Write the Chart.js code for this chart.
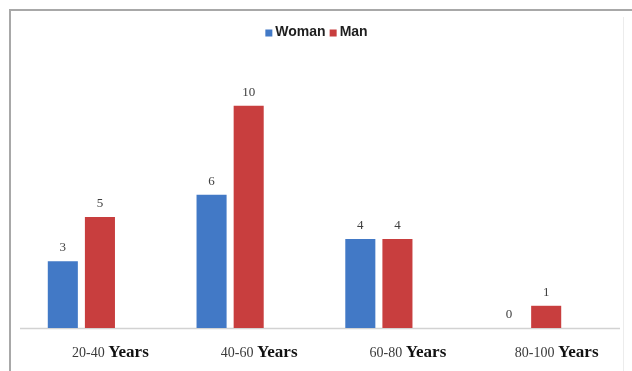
<!DOCTYPE html>
<html>
<head>
<meta charset="utf-8">
<script src="https://cdn.jsdelivr.net/npm/chart.js@4/dist/chart.umd.min.js"></script>
<style>
  html, body { margin: 0; padding: 0; background: #ffffff; }
  #wrap { position: relative; width: 632px; height: 371px; overflow: hidden; }
  #frame {
    position: absolute; left: 9px; top: 9px; width: 640px; height: 400px;
    border-top: 2px solid #a8a8a8; border-left: 2px solid #a8a8a8;
    box-sizing: border-box;
  }
  #rightEdge {
    position: absolute; left: 623px; top: 17px; width: 1px; height: 360px;
    background: #ececec;
  }
  canvas { position: absolute; left: 0; top: 0; }
</style>
</head>
<body>
<div id="wrap">
  <div id="frame"></div>
  <div id="rightEdge"></div>
  <canvas id="chart" width="632" height="371"></canvas>
</div>
<script>
// Age groups and patient counts by sex
const ageRanges = ['20-40', '40-60', '60-80', '80-100'];
const unitLabel = 'Years';
const womanCounts = [3, 6, 4, 0];
const manCounts = [5, 10, 4, 1];

const BLUE = '#4279c6';
const RED = '#c83e3e';

// Value labels above each bar
const valueLabels = {
  id: 'valueLabels',
  afterDatasetsDraw(chart) {
    const ctx = chart.ctx;
    ctx.save();
    ctx.font = '13px "Liberation Serif", serif';
    ctx.fillStyle = '#404040';
    ctx.textAlign = 'center';
    ctx.textBaseline = 'middle';
    chart.data.datasets.forEach((ds, di) => {
      chart.getDatasetMeta(di).data.forEach((bar, i) => {
        ctx.fillText(String(ds.data[i]), bar.x, bar.y - 13.5);
      });
    });
    ctx.restore();
  }
};

// Small square-marker legend above the plot
const topLegend = {
  id: 'topLegend',
  afterDraw(chart) {
    const ctx = chart.ctx;
    const area = chart.chartArea;
    const font = 'bold 14px "Liberation Sans", Arial, sans-serif';
    const box = 7, gapText = 3, gapItem = 4;
    ctx.save();
    ctx.font = font;
    const items = chart.data.datasets.map(ds => ({
      text: ds.label, color: ds.backgroundColor, w: ctx.measureText(ds.label).width
    }));
    let total = 0;
    items.forEach((it, i) => { total += box + gapText + it.w + (i ? gapItem : 0); });
    let x = (area.left + area.right) / 2 + 12 - total / 2;
    const cy = 32;
    ctx.textBaseline = 'middle';
    ctx.textAlign = 'left';
    items.forEach((it, i) => {
      if (i) x += gapItem;
      ctx.fillStyle = it.color;
      ctx.fillRect(x, cy - box / 2 + 1, box, box);
      x += box + gapText;
      ctx.fillStyle = '#1e1e1e';
      ctx.fillText(it.text, x, cy);
      x += it.w;
    });
    ctx.restore();
  }
};

// Baseline and two-font category labels ("20-40" + bold "Years")
const categoryAxis = {
  id: 'categoryAxis',
  beforeDatasetsDraw(chart) {
    const ctx = chart.ctx;
    const area = chart.chartArea;
    const y0 = chart.scales.y.getPixelForValue(0);
    ctx.save();
    ctx.strokeStyle = '#d2d2d2';
    ctx.lineWidth = 1.5;
    ctx.beginPath();
    ctx.moveTo(area.left + 13, y0 + 0.5);
    ctx.lineTo(area.right + 18, y0 + 0.5);
    ctx.stroke();
    ctx.restore();
  },
  afterDraw(chart) {
    const ctx = chart.ctx;
    const xs = chart.scales.x;
    const y0 = chart.scales.y.getPixelForValue(0);
    const fontA = '14px "Liberation Serif", serif';
    const fontB = 'bold 17px "Liberation Serif", serif';
    ctx.save();
    ctx.textBaseline = 'alphabetic';
    ctx.textAlign = 'left';
    ageRanges.forEach((r, i) => {
      ctx.font = fontA;
      const a = r + ' ';
      const wa = ctx.measureText(a).width;
      ctx.font = fontB;
      const wb = ctx.measureText(unitLabel).width;
      const cx = xs.getPixelForValue(i) + 29;
      const start = cx - (wa + wb) / 2;
      const by = y0 + 29;
      ctx.font = fontA;
      ctx.fillStyle = '#3a3a3a';
      ctx.fillText(a, start, by);
      ctx.font = fontB;
      ctx.fillStyle = '#111111';
      ctx.fillText(unitLabel, start + wa, by);
    });
    ctx.restore();
  }
};

new Chart(document.getElementById('chart'), {
  type: 'bar',
  data: {
    labels: ageRanges,
    datasets: [
      { label: 'Woman', data: womanCounts, backgroundColor: BLUE, borderWidth: 0 },
      { label: 'Man', data: manCounts, backgroundColor: RED, borderWidth: 0 }
    ]
  },
  options: {
    responsive: false,
    animation: false,
    devicePixelRatio: 1,
    layout: { padding: { left: 7, right: 30, top: 48, bottom: 43 } },
    datasets: { bar: { categoryPercentage: 0.499, barPercentage: 0.81 } },
    plugins: {
      legend: { display: false },
      tooltip: { enabled: false }
    },
    scales: {
      x: { display: false },
      y: { display: false, min: 0, max: 12.6 }
    }
  },
  plugins: [valueLabels, categoryAxis, topLegend]
});
</script>
</body>
</html>
